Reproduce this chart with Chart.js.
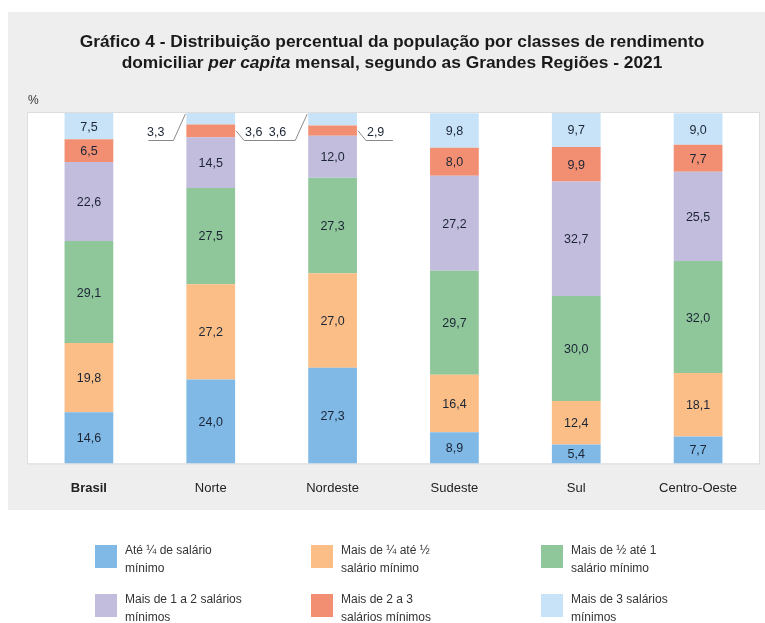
<!DOCTYPE html>
<html><head><meta charset="utf-8">
<script src="https://cdn.jsdelivr.net/npm/chart.js@4/dist/chart.umd.min.js"></script>
<style>html,body{margin:0;padding:0;background:#fff;}canvas{display:block}</style>
</head><body><canvas id="c" width="765" height="623"></canvas>
<script>
// ---- data ----
const regions = ['Brasil', 'Norte', 'Nordeste', 'Sudeste', 'Sul', 'Centro-Oeste'];
const seriesNames = [
  'Até ¼ de salário\nmínimo',
  'Mais de ¼ até ½\nsalário mínimo',
  'Mais de ½ até 1\nsalário mínimo',
  'Mais de 1 a 2 salários\nmínimos',
  'Mais de 2 a 3\nsalários mínimos',
  'Mais de 3 salários\nmínimos'
];
const ateUmQuarto      = [14.6, 24.0, 27.3, 8.9, 5.4, 7.7];
const umQuartoAteMeio  = [19.8, 27.2, 27.0, 16.4, 12.4, 18.1];
const meioAteUm        = [29.1, 27.5, 27.3, 29.7, 30.0, 32.0];
const umADois          = [22.6, 14.5, 12.0, 27.2, 32.7, 25.5];
const doisATres        = [6.5, 3.6, 2.9, 8.0, 9.9, 7.7];
const maisDeTres       = [7.5, 3.3, 3.6, 9.8, 9.7, 9.0];
const yMax = 100.1;

const seriesValues = [ateUmQuarto, umQuartoAteMeio, meioAteUm, umADois, doisATres, maisDeTres];
const colors = ['#80b9e6', '#fbbe86', '#8fc79b', '#c3bddd', '#f28f72', '#c8e3f8'];

const fmt = v => v.toFixed(1).replace('.', ',');

const bgPlugin = {
  id: 'bg',
  beforeDraw(chart) {
    const c = chart.ctx, a = chart.chartArea;
    c.save();
    c.fillStyle = '#ffffff'; c.fillRect(0, 0, chart.width, chart.height);
    c.fillStyle = '#eeeeee'; c.fillRect(8, 12, chart.width - 8, 498);
    c.fillStyle = '#ffffff'; c.fillRect(a.left, a.top, a.right - a.left, a.bottom - a.top);
    c.strokeStyle = '#dddddd'; c.lineWidth = 1;
    c.strokeRect(a.left - 0.5, a.top - 0.5, a.right - a.left + 1, a.bottom - a.top + 1);
    // title
    c.fillStyle = '#1a1a1a'; c.textBaseline = 'middle'; c.textAlign = 'left';
    const fam = "'Liberation Sans Narrow', 'Liberation Sans', Arial, sans-serif";
    const line1 = 'Gráfico 4 - Distribuição percentual da população por classes de rendimento';
    let size = 18;
    c.font = `bold ${size}px ${fam}`;
    size = size * 625 / c.measureText(line1).width;
    size = Math.min(size, 19);
    const cx = 392;
    c.font = `bold ${size}px ${fam}`;
    let w = c.measureText(line1).width;
    c.fillText(line1, cx - w / 2, 42);
    const parts = [['domiciliar ', 'bold'], ['per capita', 'italic bold'], [' mensal, segundo as Grandes Regiões - 2021', 'bold']];
    let tot = 0;
    parts.forEach(p => { c.font = `${p[1]} ${size}px ${fam}`; tot += c.measureText(p[0]).width; });
    let x = cx - tot / 2;
    parts.forEach(p => { c.font = `${p[1]} ${size}px ${fam}`; c.fillText(p[0], x, 63); x += c.measureText(p[0]).width; });
    // % unit
    c.font = `12px 'Liberation Sans', Arial, sans-serif`;
    c.fillStyle = '#333';
    c.fillText('%', 28, 101);
    c.restore();
  }
};

const labelPlugin = {
  id: 'labels',
  afterDatasetsDraw(chart) {
    const c = chart.ctx, a = chart.chartArea;
    c.save();
    c.font = `12.5px 'Liberation Sans', Arial, sans-serif`;
    c.fillStyle = '#1b2535';
    c.textBaseline = 'middle';
    chart.data.datasets.forEach((ds, i) => {
      const meta = chart.getDatasetMeta(i);
      meta.data.forEach((el, j) => {
        const v = ds.data[j];
        const mid = (el.y + el.base) / 2;
        const left = el.x - el.width / 2, right = el.x + el.width / 2;
        if (v >= 5) {
          c.textAlign = 'center';
          c.fillText(fmt(v), el.x, mid + 1);
        } else {
          const uy = a.top + 27;
          c.strokeStyle = '#8a8a8a'; c.lineWidth = 1;
          if (i === seriesValues.length - 1) {
            c.textAlign = 'right';
            c.fillText(fmt(v), left - 22, uy - 7);
            c.beginPath();
            c.moveTo(left - 38, uy + 0.5);
            c.lineTo(left - 13, uy + 0.5);
            c.lineTo(left - 1, a.top + 1);
            c.stroke();
          } else {
            c.textAlign = 'left';
            c.fillText(fmt(v), right + 10, uy - 7);
            c.beginPath();
            c.moveTo(right + 1, mid);
            c.lineTo(right + 9, uy + 0.5);
            c.lineTo(right + 36, uy + 0.5);
            c.stroke();
          }
        }
      });
    });
    c.restore();
  }
};

const legendPlugin = {
  id: 'customLegend',
  afterDraw(chart) {
    const c = chart.ctx;
    c.save();
    c.font = `12px 'Liberation Sans', Arial, sans-serif`;
    c.textBaseline = 'middle'; c.textAlign = 'left';
    const colX = [95, 311, 541];
    const rowY = [545, 594];
    chart.data.datasets.forEach((ds, i) => {
      const col = i % 3, row = Math.floor(i / 3);
      const x = colX[col], y = rowY[row];
      c.fillStyle = ds.backgroundColor;
      c.fillRect(x, y, 22, 23);
      c.fillStyle = '#333';
      ds.label.split('\n').forEach((ln, k) => c.fillText(ln, x + 30, y + 6 + k * 18));
    });
    c.restore();
  }
};

new Chart(document.getElementById('c'), {
  type: 'bar',
  data: {
    labels: regions,
    datasets: seriesValues.map((vals, i) => ({
      label: seriesNames[i],
      data: vals,
      backgroundColor: colors[i],
      borderWidth: 0,
      categoryPercentage: 1,
      barPercentage: 0.4
    }))
  },
  options: {
    responsive: false,
    animation: false,
    devicePixelRatio: 1,
    layout: { padding: { left: 28, right: 6, top: 113, bottom: 118 } },
    plugins: { legend: { display: false }, title: { display: false }, tooltip: { enabled: false } },
    scales: {
      x: {
        stacked: true,
        grid: { display: false },
        border: { display: false },
        ticks: {
          padding: 9,
          color: '#222',
          font: ctx => ({ family: "'Liberation Sans', Arial, sans-serif", size: 13, weight: ctx.index === 0 ? 'bold' : 'normal' })
        }
      },
      y: { stacked: true, display: false, min: 0, max: yMax }
    }
  },
  plugins: [bgPlugin, labelPlugin, legendPlugin]
});
</script>
</body></html>
